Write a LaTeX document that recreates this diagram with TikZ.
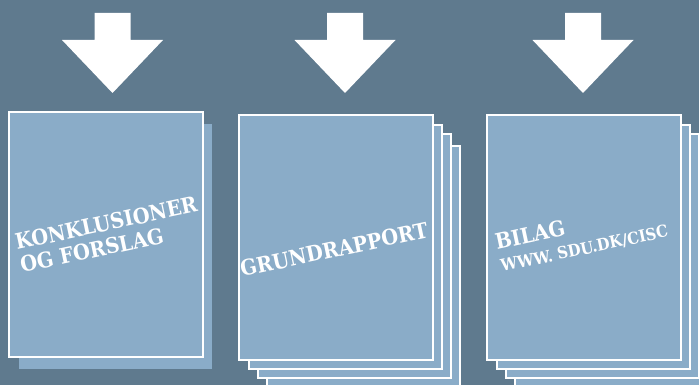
\documentclass[tikz,border=0pt]{standalone}
\usepackage{fontspec}
\setmainfont{DejaVu Serif}
\newfontfamily\titlefont{DejaVu Serif Condensed}
\usetikzlibrary{positioning}
\definecolor{reportbg}{HTML}{5F7A8E}
\definecolor{reportpage}{HTML}{8AACC8}

\begin{document}
\begin{tikzpicture}[x=1pt,y=-1pt,
    sheet/.style={fill=reportpage,draw=white,line width=1.5pt},
    title/.style={text=white,font=\titlefont\bfseries\fontsize{21.5}{21.5}\selectfont,
      rotate=12,anchor=base west,inner sep=0pt},
    subtitle/.style={title,font=\titlefont\bfseries\fontsize{16.5}{16.5}\selectfont}]
    \fill[reportbg] (0,0) rectangle (699,385);
    \clip (0,0) rectangle (699,385);
    % arrows
    \foreach \c in {112.5,345,583}
        \fill[white] (\c-18,13) -- (\c+18,13) -- (\c+18,40) -- (\c+50.5,40)
            -- (\c,93) -- (\c-50.5,40) -- (\c-18,40) -- cycle;
    % first report: one sheet with shadow
    \fill[reportpage] (19,124) rectangle (212,369);
    \draw[sheet] (9,112) rectangle (203,357);
    % second and third report: stacks of sheets
    \foreach \x in {239,487}{
        \draw[sheet] (\x+28,146) rectangle (\x+221,395);
        \draw[sheet] (\x+19,134) rectangle (\x+212,378);
        \draw[sheet] (\x+10,125) rectangle (\x+203,369);
        \draw[sheet] (\x,115) rectangle (\x+194,360);
    }
    % titles
    \node[title] (konkl) at (17,250) {KONKLUSIONER};
    \node[title] (forslag) at (22,273) {OG FORSLAG};
    \node[title] (grund) at (242,277) {GRUNDRAPPORT};
    \node[title] (bilag) at (497,250) {BILAG};
    \node[subtitle] (www) at (502,272) {WWW. SDU.DK/CISC};
\end{tikzpicture}
\end{document}
